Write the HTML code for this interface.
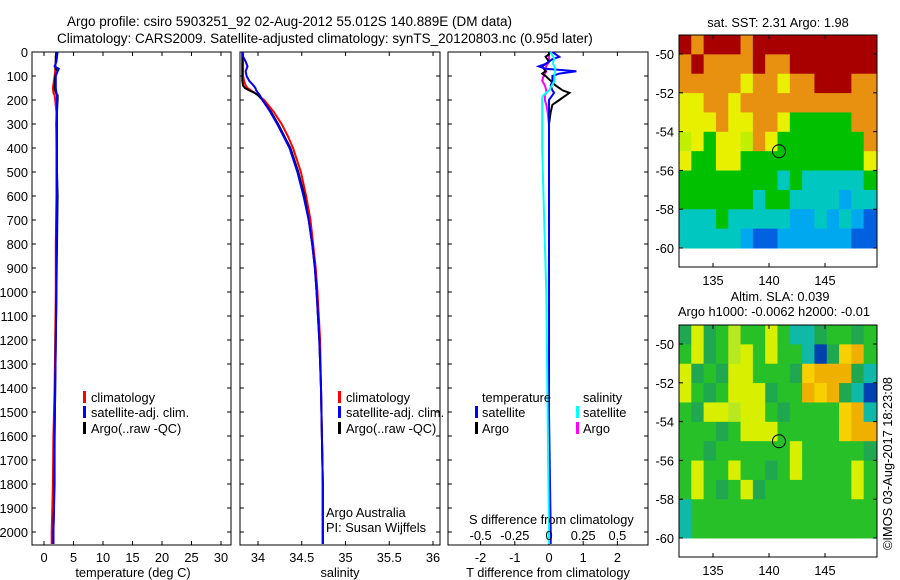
<!DOCTYPE html>
<html><head><meta charset="utf-8">
<style>
html,body{margin:0;padding:0;background:#fff;}
svg{display:block;font-family:"Liberation Sans",sans-serif;}
text{font-size:12.8px;fill:#000;}
</style></head>
<body>
<svg id="fig" width="900" height="580" viewBox="0 0 900 580">
<text x="67" y="26" style="font-size:13.5px">Argo profile: csiro 5903251_92 02-Aug-2012 55.012S 140.889E (DM data)</text>
<text x="57" y="43" style="font-size:13.5px">Climatology: CARS2009. Satellite-adjusted climatology: synTS_20120803.nc (0.95d later)</text>
<g id="g"></g>
</svg>
<script>
// ---- data ----
const tDepths=[0,20,40,60,70,80,100,150,170,180,200,250,300,400,500,600,800,1000,1200,1400,1600,1800,1900,2000,2050];
const tArgo=[2.1,2.0,2.0,1.9,2.0,2.3,1.9,1.8,2.0,2.3,2.3,2.2,2.1,2.2,2.2,2.3,2.2,2.1,2.0,1.9,1.8,1.7,1.7,1.6,1.6];
const tSat=[2.3,2.2,2.1,1.8,2.5,2.3,2.0,2.0,2.1,2.2,2.2,2.2,2.2,2.2,2.2,2.2,2.1,2.1,2.0,1.9,1.8,1.8,1.7,1.6,1.6];
const tClim=[2.1,2.0,2.0,1.9,1.9,1.9,1.8,1.5,1.6,1.8,1.9,2.1,2.1,2.1,2.1,2.1,2.0,2.0,1.9,1.8,1.6,1.5,1.4,1.3,1.3];
const sDepths=[0,20,40,60,80,100,120,140,150,160,170,180,200,250,300,350,400,500,600,700,800,900,1000,1200,1400,1600,1800,2000,2050];
const sArgo=[33.82,33.82,33.82,33.82,33.82,33.82,33.82,33.83,33.85,33.9,33.96,34.0,34.05,34.15,34.23,34.3,34.37,34.46,34.53,34.58,34.62,34.65,34.67,34.7,34.72,34.73,34.74,34.74,34.74];
const sSat=[33.82,33.83,33.86,33.88,33.86,33.87,33.9,33.95,33.97,33.98,34.0,34.02,34.05,34.14,34.22,34.29,34.36,34.45,34.52,34.58,34.62,34.65,34.67,34.7,34.72,34.73,34.74,34.74,34.74];
const sClim=[33.83,33.83,33.83,33.83,33.83,33.83,33.84,33.86,33.88,33.92,33.96,34.0,34.07,34.18,34.27,34.34,34.4,34.49,34.55,34.6,34.63,34.66,34.68,34.71,34.72,34.73,34.74,34.74,34.74];
const dDepths=[0,10,20,30,40,50,60,70,80,90,100,120,140,160,170,180,190,200,220,250,300,400,600,800,1000,1500,2000,2050];
const dTSat=[0.1,0.2,0.3,0.1,0,-0.1,-0.3,-0.1,0.8,0.3,0.1,0.1,0.05,0.1,0.15,0.1,0.05,0,0,0,0,0,0,0,0,0,0.05,0.05];
const dTArgo=[0,0,-0.1,-0.05,0,-0.1,-0.2,-0.15,-0.1,-0.2,-0.1,0.05,0.2,0.4,0.6,0.5,0.4,0.3,0.1,0.05,0,0,0,0,0,0,0,0];
const dSSat=[0.01,0.02,0.03,0.04,0.03,0.03,0.04,0.045,0.045,0.04,0.04,0.04,0.02,0,-0.02,-0.04,-0.05,-0.05,-0.05,-0.05,-0.05,-0.05,-0.04,-0.03,-0.02,-0.01,0,0];
const dSArgo=[0,0,0,0,0,-0.01,-0.02,-0.03,-0.02,-0.03,-0.04,-0.05,-0.03,-0.02,-0.02,-0.03,-0.03,-0.03,-0.02,-0.01,0,0,0,0,0,0,0,0];
const depthTicks=[0,100,200,300,400,500,600,700,800,900,1000,1100,1200,1300,1400,1500,1600,1700,1800,1900,2000];
const tTicks=[0,5,10,15,20,25,30];
const sTicks=[34,34.5,35,35.5,36];
const sTickLabels=["34","34.5","35","35.5","36"];
const dTicks=[-2,-1,0,1,2];
const dSTicks=[-0.5,-0.25,0,0.25,0.5];
const lonTicks=[135,140,145];
const latTicks=[-50,-52,-54,-56,-58,-60];
const sstGrid=["DODDDODDDDDDDDDD","ODOOOODOODDDDDDD","OOOOOYOOYOODDDOO","YYOOYOOOOOOOOOOO","YYYOYYOOYGGGGGOO","yYGYYyOYGGGGGGGO","YGGYYGGGGGGGGGGY","GGGGGGGGCGCCCCCG","GGGGGGCGGCCCCBCC","CCCGCCCCCBBCBCBb","CCCCCBbbBBBBBBbb"];
const slaGrid=["gYgGyGGYGCCgGGgG","GYgGyYGYGGCbgoOG","YgGgYYGGGgoOOOgC","YGgGYYYgGGOoOgCb","GgYYyYYGgGGGGoOC","GGGgGYYYGGGGGoOO","GGgGGGGGGYGGGGGg","GYGGYGGgGYGGGGYG","GYGgGYgGGGGGGGYG","CGGGGGGGGGGGGGGG","CGGGGGGGGGGGGGGG"];
const argoLon=140.889, argoLat=-55.012;

const NS="http://www.w3.org/2000/svg";
const G=document.getElementById('g');
function mk(t,a,p){const e=document.createElementNS(NS,t);for(const k in a)e.setAttribute(k,a[k]);(p||G).appendChild(e);return e;}
const yD=d=>52+d*0.24;
const PT=52, PB=545;
function panel(x0,x1,name){
  const r=mk('rect',{x:x0,y:PT,width:x1-x0,height:PB-PT,fill:'none',stroke:'#000','stroke-width':1});
  
  
  depthTicks.forEach(d=>{mk('line',{x1:x0,x2:x0+4,y1:yD(d),y2:yD(d),stroke:'#000'});mk('line',{x1:x1-4,x2:x1,y1:yD(d),y2:yD(d),stroke:'#000'});});
}
function xticks(vals,fx,labels,y,name){
  vals.forEach((v,i)=>{const x=fx(v);mk('line',{x1:x,x2:x,y1:PT,y2:PT+4,stroke:'#000'});mk('line',{x1:x,x2:x,y1:PB-4,y2:PB,stroke:'#000'});
    const t=mk('text',{x:x,y:y,'text-anchor':'middle'});t.textContent=labels?labels[i]:String(v);
    
    });
}
function line(xs,ds,fx,col,name){
  const pts=xs.map((v,i)=>fx(v).toFixed(1)+','+yD(ds[i]).toFixed(1)).join(' ');
  const p=mk('polyline',{points:pts,fill:'none',stroke:col,'stroke-width':2});
  
  
}
function txt(x,y,s,name,extra){const t=mk('text',Object.assign({x:x,y:y},extra||{}));t.textContent=s;
  
  return t;}
function legMark(x,y,col){mk('rect',{x:x,y:y-11,width:3,height:12,fill:col});}

depthTicks.forEach(d=>txt(28,yD(d)+5,String(d),'depth-tick-label',{'text-anchor':'end'}));

const fxT=v=>44+v*5.9;
panel(32,231,'temperature-panel');
xticks(tTicks,fxT,null,562,'temperature-tick-label');
line(tClim,tDepths,fxT,'#f00','temperature-climatology');
line(tArgo,tDepths,fxT,'#000','temperature-argo');
line(tSat,tDepths,fxT,'#00f','temperature-satellite');
txt(133,577,'temperature (deg C)','temperature-axis-title',{'text-anchor':'middle'});
legMark(83,402,'#f00');txt(91,402,'climatology','legend-climatology');
legMark(83,417,'#00f');txt(91,417,'satellite-adj. clim.','legend-satellite');
legMark(83,433,'#000');txt(91,433,'Argo(..raw -QC)','legend-argo');

const fxS=v=>258+(v-34)*87.5;
panel(240,440,'salinity-panel');
xticks(sTicks,fxS,sTickLabels,562,'salinity-tick-label');
line(sClim,sDepths,fxS,'#f00','salinity-climatology');
line(sArgo,sDepths,fxS,'#000','salinity-argo');
line(sSat,sDepths,fxS,'#00f','salinity-satellite');
txt(340,577,'salinity','salinity-axis-title',{'text-anchor':'middle'});
legMark(338,402,'#f00');txt(346,402,'climatology','legend-climatology-2');
legMark(338,417,'#00f');txt(346,417,'satellite-adj. clim.','legend-satellite-2');
legMark(338,433,'#000');txt(346,433,'Argo(..raw -QC)','legend-argo-2');
txt(326,517,'Argo Australia','institution-label');
txt(326,532,'PI: Susan Wijffels','pi-label');

const fxD=v=>549+v*34.2;
const fxDS=v=>549+v*4*34.2;
panel(448,648,'difference-panel');
xticks(dTicks,fxD,null,562,'t-diff-tick-label');
line(dSArgo,dDepths,fxDS,'#f0f','s-diff-argo');
line(dTArgo,dDepths,fxD,'#000','t-diff-argo');
line(dTSat,dDepths,fxD,'#00f','t-diff-satellite');
line(dSSat,dDepths,fxDS,'#0ff','s-diff-satellite');
txt(548,577,'T difference from climatology','t-diff-axis-title',{'text-anchor':'middle'});
txt(469,524,'S difference from climatology','s-diff-axis-title');
dSTicks.forEach(v=>txt(fxDS(v),540,String(v),'s-diff-tick-label',{'text-anchor':'middle'}));
txt(482,402,'temperature','legend-temperature-header');
txt(583,402,'salinity','legend-salinity-header');
legMark(475,417,'#00f');txt(482,417,'satellite','legend-t-satellite');
legMark(475,433,'#000');txt(482,433,'Argo','legend-t-argo');
legMark(576,417,'#0ff');txt(583,417,'satellite','legend-s-satellite');
legMark(576,433,'#f0f');txt(583,433,'Argo','legend-s-argo');

const sstCol={D:'#a80000',O:'#e89010',o:'#f0b000',Y:'#e8f000',y:'#c0f000',G:'#00c000',g:'#20b040',C:'#00c8c0',B:'#00a8f0',b:'#0060e0'};
const slaCol={G:'#28c028',g:'#20a850',Y:'#d8f000',y:'#b8e820',O:'#f0b000',o:'#f8d000',C:'#10b8a8',b:'#0040b0'};
function map(top,lat50y,grid,cols,name,circName){
  const x0=679,x1=877,lonX=l=>769+(l-140)*11.2,latY=l=>lat50y+(-50-l)*19.4;
  const bottom=top+232;
  const nr=grid.length,nc=grid[0].length;
  const cw=(876-679)/nc, rh=(latY(-60)-top)/nr;
  grid.forEach((row,r)=>{for(let c=0;c<nc;c++){mk('rect',{x:(679+c*cw).toFixed(2),y:(top+r*rh).toFixed(2),width:(cw+0.5).toFixed(2),height:(rh+0.5).toFixed(2),fill:cols[row[c]]});}});
  const b=mk('rect',{x:x0,y:top,width:x1-x0,height:bottom-top,fill:'none',stroke:'#000'});
  
  
  lonTicks.forEach(l=>{const x=lonX(l);mk('line',{x1:x,x2:x,y1:top,y2:top+4,stroke:'#000'});mk('line',{x1:x,x2:x,y1:bottom-4,y2:bottom,stroke:'#000'});
    txt(x,bottom+18,String(l),'map-lon-label',{'text-anchor':'middle'});});
  latTicks.forEach(l=>{const y=latY(l);mk('line',{x1:x0,x2:x0+4,y1:y,y2:y,stroke:'#000'});mk('line',{x1:x1-4,x2:x1,y1:y,y2:y,stroke:'#000'});
    txt(x0-5,y+5,String(l),'map-lat-label',{'text-anchor':'end'});});
  const c=mk('circle',{cx:lonX(argoLon),cy:latY(argoLat),r:6.5,fill:'none',stroke:'#000','stroke-width':1});
  
  
}
map(35,54,sstGrid,sstCol,'sst-map','sst-argo-location');
txt(778,27,'sat. SST: 2.31  Argo: 1.98','sst-map-title',{'text-anchor':'middle'});
map(325,344,slaGrid,slaCol,'sla-map','sla-argo-location');
txt(780,301,'Altim. SLA: 0.039','sla-map-title',{'text-anchor':'middle'});
txt(774,316,'Argo h1000: -0.0062 h2000: -0.01','sla-map-subtitle',{'text-anchor':'middle'});
txt(0,0,'©IMOS 03-Aug-2017 18:23:08','imos-credit',{transform:'translate(892,550) rotate(-90)'});
</script>
</body></html>
